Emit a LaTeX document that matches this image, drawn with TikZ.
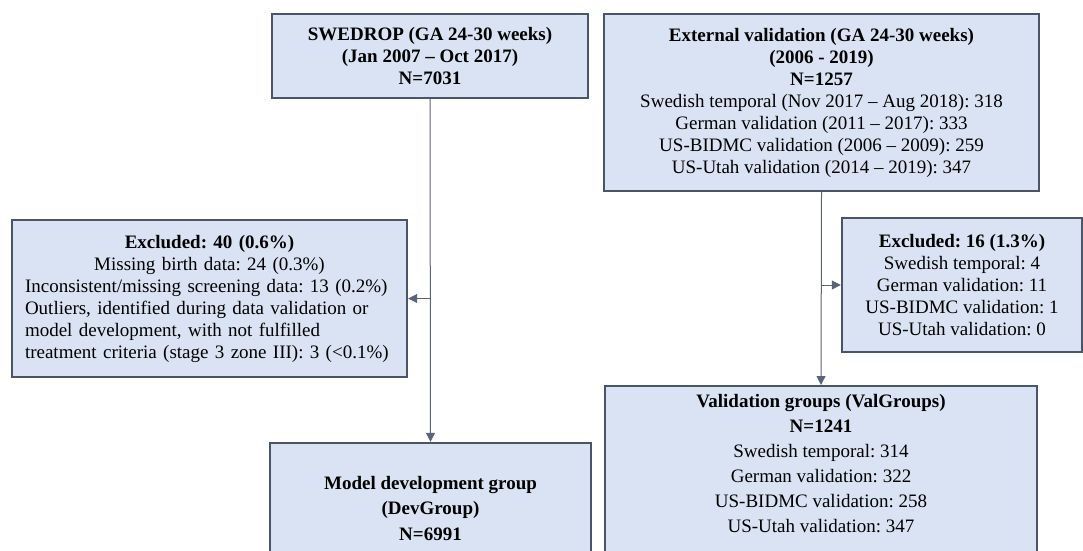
\documentclass[tikz,border=0pt]{standalone}
\usepackage{fontspec}
\setmainfont{Liberation Serif}
\frenchspacing
\usetikzlibrary{arrows.meta}
\definecolor{boxfill}{HTML}{DAE3F3}
\definecolor{boxline}{HTML}{4A5568}
\definecolor{conncol}{HTML}{5A6478}
\begin{document}
\begin{tikzpicture}[x=1pt,y=-1pt,
  box/.style={draw=boxline, fill=boxfill, line width=2.4pt, rectangle, inner sep=0pt,
    font=\fontsize{19}{22}\selectfont\frenchspacing, align=center},
  conn/.style={draw=conncol, line width=1pt, -{Triangle[length=9pt,width=9pt]}}]
\useasboundingbox (0,0) rectangle (1083,550);
\clip (0,0) rectangle (1083,550);
\node[box, minimum width=316, minimum height=84] (swe) at (430,56)
  {\bfseries SWEDROP (GA 24-30 weeks)\\\bfseries (Jan 2007 – Oct 2017)\\\bfseries N=7031};
\node[box, minimum width=435, minimum height=177] (ext) at (821.5,102.5)
  {\bfseries External validation (GA 24-30 weeks)\\\bfseries (2006 - 2019)\\\bfseries N=1257\\
   Swedish temporal (Nov 2017 – Aug 2018): 318\\
   German validation (2011 – 2017): 333\\
   US-BIDMC validation (2006 – 2009): 259\\
   US-Utah validation (2014 – 2019): 347};
\node[box, align=left, text width=369, inner xsep=13pt, minimum height=157] (exl) at (209.5,298.5)
  {\makebox[\linewidth]{\bfseries Excluded: 40 (0.6\%)}\\
   \makebox[\linewidth]{Missing birth data: 24 (0.3\%)}\\
   Inconsistent/missing screening data: 13 (0.2\%)\\
   Outliers, identified during data validation or\\
   model development, with not fulfilled\\
   treatment criteria (stage 3 zone III): 3 (<0.1\%)};
\node[box, minimum width=240, minimum height=134] (exr) at (962,285)
  {\bfseries Excluded: 16 (1.3\%)\\
   Swedish temporal: 4\\
   German validation: 11\\
   US-BIDMC validation: 1\\
   US-Utah validation: 0};
\node[box, minimum width=321, minimum height=130, font=\fontsize{19}{25.5}\selectfont] (dev) at (430.5,508)
  {\bfseries Model development group\\\bfseries (DevGroup)\\\bfseries N=6991};
\node[box, anchor=north, font=\fontsize{19}{25}\selectfont] (val) at (821,385)
  {\begin{minipage}[t][200pt][t]{432pt}\centering\vspace*{8pt}
   {\bfseries Validation groups (ValGroups)}\\
   {\bfseries N=1241}\\
   Swedish temporal: 314\\
   German validation: 322\\
   US-BIDMC validation: 258\\
   US-Utah validation: 347\end{minipage}};
\coordinate (j1) at (swe.south |- exl.east);
\coordinate (j2) at (ext.south |- exr.west);
\draw[conn] (swe.south) -- (dev.north);
\draw[conn] (j1) -- (exl.east);
\draw[conn] (ext.south) -- (val.north);
\draw[conn] (j2) -- (exr.west);
\end{tikzpicture}
\end{document}
